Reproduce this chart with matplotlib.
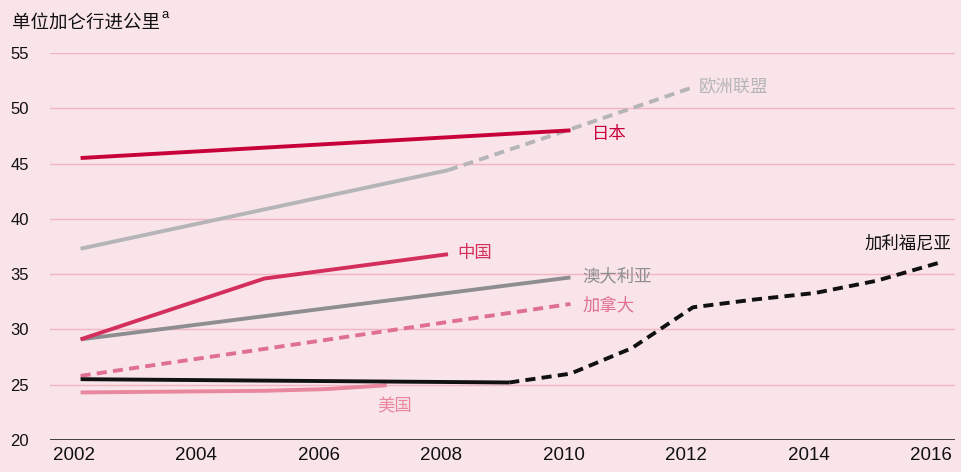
import matplotlib
matplotlib.use("Agg")
import matplotlib.pyplot as plt
import matplotlib.transforms as mtransforms

plt.rcParams['font.family'] = ['Noto Sans CJK SC', 'DejaVu Sans']

years_ticks = [2002, 2004, 2006, 2008, 2010, 2012, 2014, 2016]
y_ticks = [20, 25, 30, 35, 40, 45, 50, 55]

japan_x = [2002, 2010]
japan_y = [45.5, 48.0]

eu_x = [2002, 2008]
eu_y = [37.3, 44.4]
eu_proj_x = [2008, 2010, 2012]
eu_proj_y = [44.4, 48.1, 51.9]

china_x = [2002, 2005, 2008]
china_y = [29.1, 34.6, 36.8]

australia_x = [2002, 2010]
australia_y = [29.1, 34.7]

canada_x = [2002, 2010]
canada_y = [25.8, 32.3]

us_x = [2002, 2003, 2004, 2005, 2006, 2007]
us_y = [24.3, 24.35, 24.4, 24.45, 24.6, 24.95]

cal_x = [2002, 2009]
cal_y = [25.5, 25.2]
cal_proj_x = [2009, 2010, 2011, 2012, 2013, 2014, 2015, 2016]
cal_proj_y = [25.2, 26.0, 28.3, 32.0, 32.7, 33.3, 34.4, 36.0]

bg = '#F9E4E9'
c_japan = '#C8003A'
c_eu = '#B5B5B7'
c_china = '#D42F5C'
c_aus = '#8E8E90'
c_can = '#E07090'
c_us = '#E8879E'
c_cal = '#111111'

fig = plt.figure(figsize=(9.61, 4.72), dpi=100, facecolor=bg)
ax = fig.add_axes([0.052, 0.0678, 0.9418, 0.82])
ax.set_facecolor(bg)
ax.set_xlim(2001.5, 2016.28)
ax.set_ylim(20, 55)

for y in y_ticks[1:]:
    ax.axhline(y, color='#F2B5C2', lw=1.0, zorder=1)
ax.axhline(20, color='#333333', lw=1.3, zorder=2)

lw = 2.8
dash = (2.6, 1.6)
ax.plot(eu_x, eu_y, color=c_eu, lw=lw, solid_capstyle='butt', zorder=3)
ax.plot(eu_proj_x, eu_proj_y, color=c_eu, lw=lw, dashes=dash, zorder=3)
ax.plot(japan_x, japan_y, color=c_japan, lw=lw, solid_capstyle='butt', zorder=4)
ax.plot(china_x, china_y, color=c_china, lw=lw, solid_capstyle='butt', zorder=4)
ax.plot(australia_x, australia_y, color=c_aus, lw=lw, solid_capstyle='butt', zorder=3)
ax.plot(canada_x, canada_y, color=c_can, lw=lw, dashes=dash, zorder=3)
ax.plot(us_x, us_y, color=c_us, lw=lw, solid_capstyle='butt', zorder=3)
ax.plot(cal_x, cal_y, color=c_cal, lw=lw, solid_capstyle='butt', zorder=5)
ax.plot(cal_proj_x, cal_proj_y, color=c_cal, lw=lw, dashes=dash, zorder=5)

fs = 12.5
ax.text(2012.1, 51.9, '欧洲联盟', color=c_eu, fontsize=fs, va='center', ha='left')
ax.text(2010.35, 47.7, '日本', color=c_japan, fontsize=fs, va='center', ha='left')
ax.text(2008.15, 36.9, '中国', color=c_china, fontsize=fs, va='center', ha='left')
ax.text(2010.2, 34.8, '澳大利亚', color=c_aus, fontsize=fs, va='center', ha='left')
ax.text(2010.2, 32.2, '加拿大', color=c_can, fontsize=fs, va='center', ha='left')
ax.text(2006.85, 23.0, '美国', color=c_us, fontsize=fs, va='center', ha='left')
ax.text(2016.22, 37.0, '加利福尼亚', color=c_cal, fontsize=fs, va='bottom', ha='right')

for s in ax.spines.values():
    s.set_visible(False)
ax.set_xticks(years_ticks)
ax.set_xticklabels([str(y) for y in years_ticks], fontsize=13.5, family='Liberation Sans', color='#111111')
ax.set_yticks(y_ticks)
ax.set_yticklabels([str(y) for y in y_ticks], fontsize=12, family='Liberation Sans', color='#111111')
ax.tick_params(axis='both', length=0)
ax.tick_params(axis='x', pad=5)
shift = mtransforms.ScaledTranslation(-7 / 100, 0, fig.dpi_scale_trans)
for lab in ax.get_xticklabels():
    lab.set_transform(lab.get_transform() + shift)
for lab in ax.get_yticklabels():
    lab.set_horizontalalignment('left')
ax.tick_params(axis='y', pad=28.5)

fig.text(0.0125, 0.953, '单位加仑行进公里', fontsize=13.3, color='#111111', va='center', ha='left')
fig.text(0.168, 0.968, 'a', fontsize=9.5, color='#111111', va='center', ha='left', family='Liberation Sans')

fig.savefig('out.png', dpi=100, facecolor=bg)
